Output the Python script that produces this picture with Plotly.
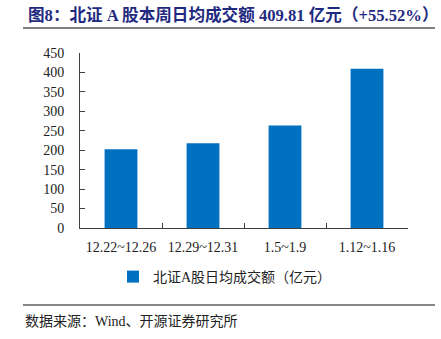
import plotly.graph_objects as go

# Weekly average daily turnover of BSE A-shares (100 million yuan)
weeks = ["12.22~12.26", "12.29~12.31", "1.5~1.9", "1.12~1.16"]
turnover = [202.5, 218.0, 263.51, 409.81]
y_ticks = [0, 50, 100, 150, 200, 250, 300, 350, 400, 450]

series_name = "北证A股日均成交额（亿元）"
title_text = "图8：北证 A 股本周日均成交额 409.81 亿元（+55.52%）"
source_text = "数据来源：Wind、开源证券研究所"

FONT = "Liberation Serif, Noto Sans CJK SC, serif"
BAR_COLOR = "#0070C0"
AXIS_COLOR = "#404040"
TEXT_COLOR = "#222222"

fig = go.Figure(
    go.Bar(
        x=weeks,
        y=turnover,
        name=series_name,
        marker=dict(color=BAR_COLOR, line=dict(width=0)),
        showlegend=True,
    )
)

fig.update_layout(
    width=441,
    height=339,
    margin=dict(l=80, r=33, t=53, b=111),
    paper_bgcolor="white",
    plot_bgcolor="white",
    font=dict(family=FONT, size=14, color=TEXT_COLOR),
    bargap=0.6,
    xaxis=dict(
        showline=True,
        linecolor=AXIS_COLOR,
        linewidth=1,
        ticks="inside",
        ticklen=5,
        tickcolor=AXIS_COLOR,
        tickson="boundaries",
        showgrid=False,
        tickfont=dict(family=FONT, size=14, color=TEXT_COLOR),
        ticklabelstandoff=6,
    ),
    yaxis=dict(
        range=[0, 450],
        tickvals=y_ticks,
        showline=True,
        linecolor=AXIS_COLOR,
        linewidth=1,
        ticks="inside",
        ticklen=5,
        tickcolor=AXIS_COLOR,
        showgrid=False,
        zeroline=False,
        tickfont=dict(family=FONT, size=14, color=TEXT_COLOR),
        ticklabelstandoff=12,
    ),
    legend=dict(
        orientation="h",
        x=0.442,
        xanchor="center",
        y=-0.28,
        yanchor="middle",
        font=dict(family=FONT, size=14, color=TEXT_COLOR),
        itemwidth=30,
        itemsizing="constant",
    ),
    shapes=[
        dict(type="line", xref="paper", yref="paper",
             x0=-57 / 328, x1=355 / 328, y0=(339 - 28 - 111) / 175, y1=(339 - 28 - 111) / 175,
             line=dict(color="#555555", width=1.5)),
        dict(type="line", xref="paper", yref="paper",
             x0=-57 / 328, x1=355 / 328, y0=(339 - 305 - 111) / 175, y1=(339 - 305 - 111) / 175,
             line=dict(color="#888888", width=2)),
    ],
    annotations=[
        dict(text="<b>" + title_text + "</b>", xref="paper", yref="paper",
             x=-54 / 328, y=(339 - 15 - 111) / 175, xanchor="left", yanchor="middle",
             showarrow=False, font=dict(family=FONT, size=16.6, color="#1F2A80")),
        dict(text=source_text, xref="paper", yref="paper",
             x=-57 / 328, y=(339 - 321 - 111) / 175, xanchor="left", yanchor="middle",
             showarrow=False, font=dict(family=FONT, size=14, color=TEXT_COLOR)),
    ],
)

fig.write_html("out.html")
